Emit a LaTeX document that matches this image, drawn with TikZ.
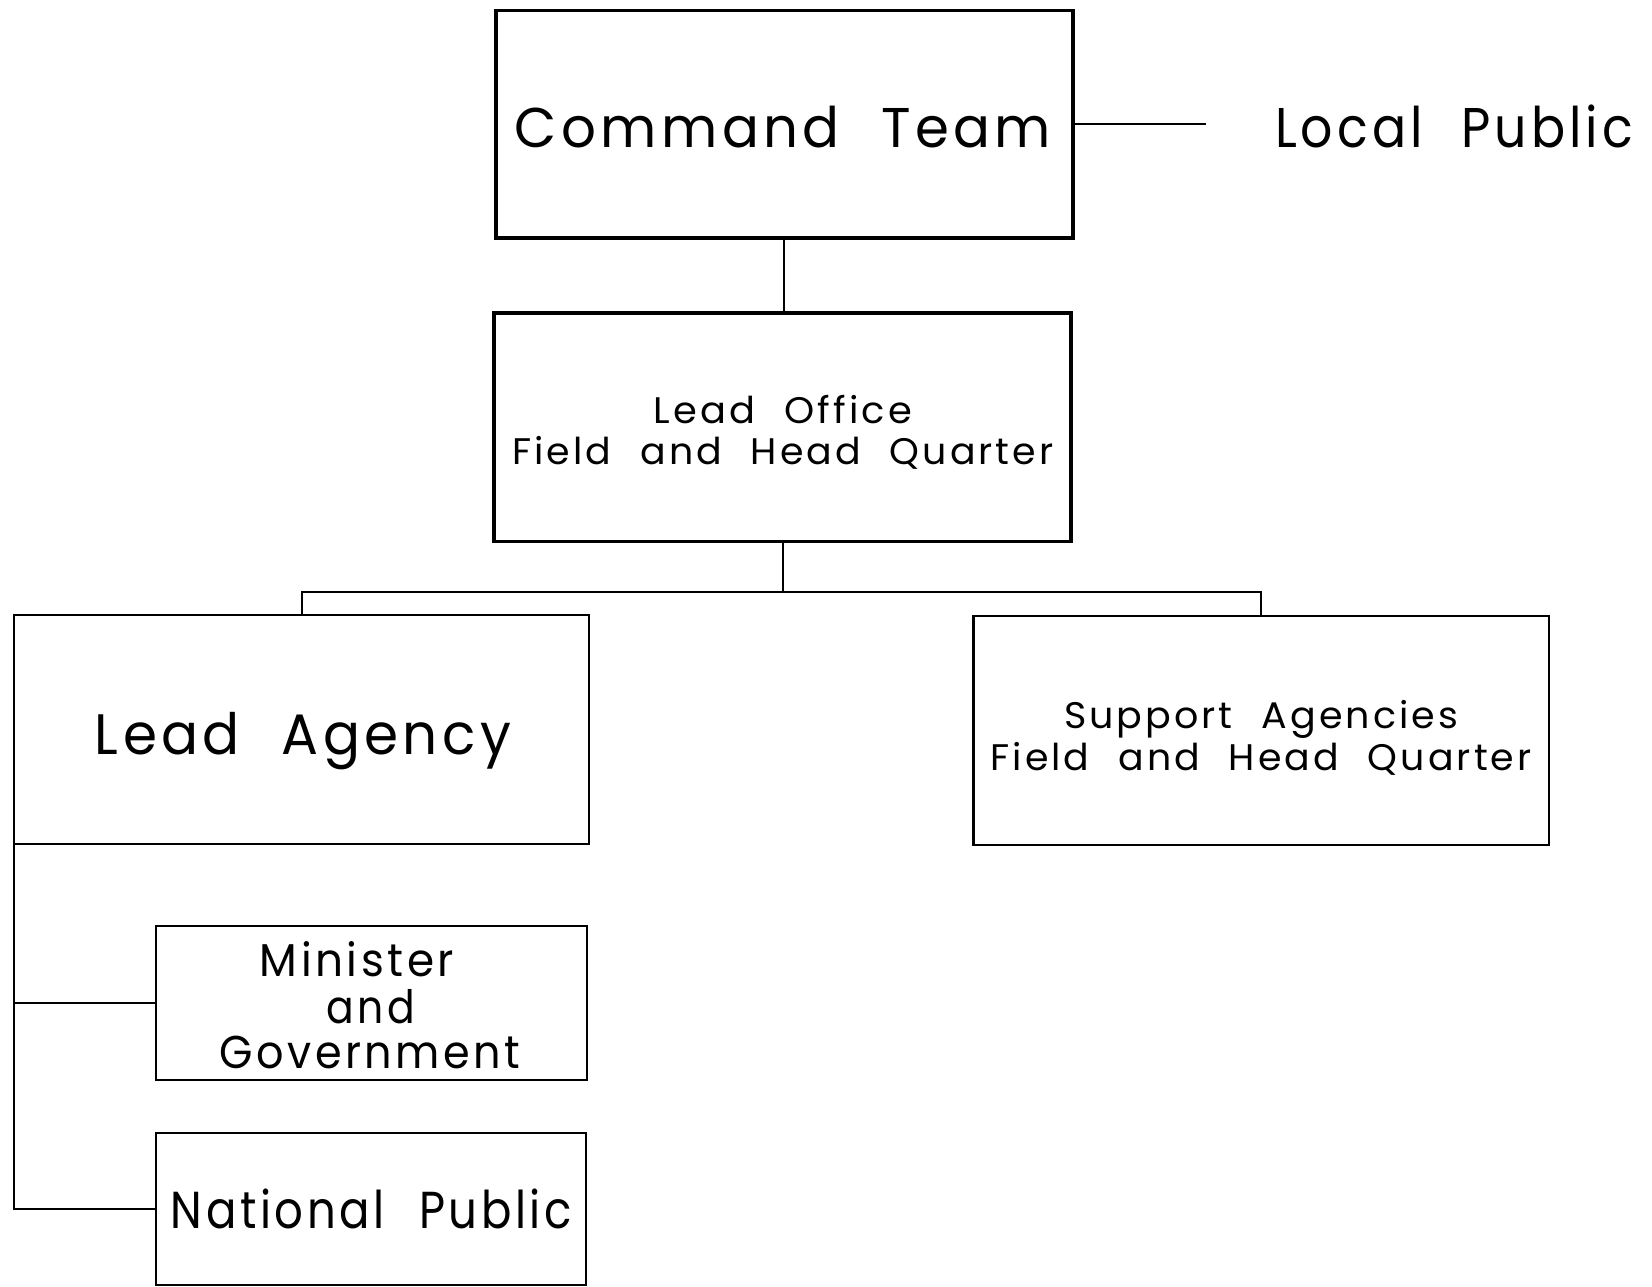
\documentclass[tikz,border=0pt]{standalone}
\usepackage{fontspec}
\setmainfont{Poppins}[LetterSpace=8,WordSpace=2.2]
\usepackage{graphicx}
% stretch a label horizontally to a given width, keeping its height
\newcommand{\wfit}[2]{\resizebox{#1pt}{\height}{#2}}
\begin{document}
\begin{tikzpicture}[x=1pt,y=-1pt,
  box/.style={draw,rectangle,inner sep=0pt,outer sep=0pt,line width=2.4pt},
  heavybox/.style={box,line width=3.6pt},
  lbl/.style={anchor=base,inner sep=0pt,outer sep=0pt},
  link/.style={line width=2pt}]
\useasboundingbox[fill=white] (0,0) rectangle (1652,1287);

% boxes
\node[heavybox,minimum width=577pt,minimum height=227.5pt] (ct) at (784.5,124.25) {};
\node[heavybox,minimum width=577pt,minimum height=228.5pt] (lo) at (782.5,427.25) {};
\node[box,minimum width=575pt,minimum height=229pt] (la) at (301.5,729.5) {};
\node[box,minimum width=575.5pt,minimum height=229pt] (sa) at (1261.25,730.5) {};
\node[box,minimum width=431pt,minimum height=154pt] (mg) at (371.5,1003) {};
\node[box,minimum width=430pt,minimum height=152pt] (np) at (371,1209) {};

% labels
\node[lbl,font=\fontsize{56}{60}\selectfont] (ctT) at (783,147.5) {\wfit{536}{Command Team}};
\node[lbl,font=\fontsize{56}{60}\selectfont] (lp) at (1454,147.5) {\wfit{358}{Local Public}};
\node[lbl,font=\fontsize{37}{40}\selectfont] (loT1) at (783,423.5) {\wfit{258}{Lead Office}};
\node[lbl,font=\fontsize{37}{40}\selectfont] (loT2) at (783,464.6) {\wfit{541}{Field and Head Quarter}};
\node[lbl,font=\fontsize{57}{60}\selectfont] (laT) at (303,754) {\wfit{416}{Lead Agency}};
\node[lbl,font=\fontsize{37}{40}\selectfont] (saT1) at (1261,728) {\wfit{394}{Support Agencies}};
\node[lbl,font=\fontsize{37}{40}\selectfont] (saT2) at (1261,770) {\wfit{541}{Field and Head Quarter}};
\node[lbl,font=\fontsize{46}{50}\selectfont] (mgT1) at (357,976.7) {\wfit{194}{Minister}};
\node[lbl,font=\fontsize{46}{50}\selectfont] (mgT2) at (371,1023) {\wfit{88}{and}};
\node[lbl,font=\fontsize{46}{50}\selectfont] (mgT3) at (370,1068) {\wfit{300}{Government}};
\node[lbl,font=\fontsize{52}{56}\selectfont] (npT) at (371.5,1228.5) {\wfit{401}{National Public}};

% connectors
\coordinate (lpEnd) at (1206,124.25);
\coordinate (bus) at (0,592);
\draw[link] (ct.east) -- (lpEnd);
\draw[link] (ct.south -| 784,0) -- (784,0 |- lo.north);
\draw[link] (lo.south) -- (lo.south |- bus);
\draw[link] (la.north) -- (la.north |- bus) -- (sa.north |- bus) -- (sa.north);
\draw[link] (la.south west) |- (np.west);
\draw[link] (la.south west |- mg.west) -- (mg.west);
\end{tikzpicture}
\end{document}
